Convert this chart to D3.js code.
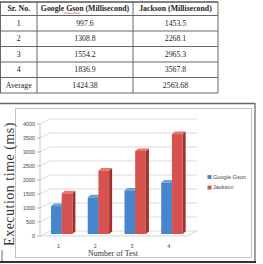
<!DOCTYPE html>
<html><head><meta charset="utf-8">
<script src="https://cdn.jsdelivr.net/npm/d3@7"></script>
<style>html,body{margin:0;padding:0;background:#fff;overflow:hidden}</style>
</head><body>
<svg id="c" width="263" height="264"></svg>
<script>
const categories = ["1", "2", "3", "4"];
const seriesNames = ["Google Gson", "Jackson"];
const gson = [997.6, 1308.8, 1554.2, 1836.9];
const jackson = [1453.5, 2268.1, 2965.3, 3567.8];
const averageLabel = "Average";
const gsonAvg = "1424.38";
const jacksonAvg = "2563.68";
const headers = ["Sr. No.", "Google Gson (Millisecond)", "Jackson (Millisecond)"];
const yTicks = [0, 500, 1000, 1500, 2000, 2500, 3000, 3500, 4000];
const yTitle = "Execution time (ms)";
const xTitle = "Number of Test";

const svg = d3.select("#c");
const serif = "'Liberation Serif', 'Times New Roman', serif";
const sans = "'Liberation Sans', Arial, sans-serif";

// ---------- Table ----------
const colX = [0.5, 37, 133, 218];
const rowY = [2, 15.5, 31, 46.5, 62, 77.5, 93];
const tbl = svg.append("g");
const rows = [headers].concat(categories.map((c, i) => [c, String(gson[i]), String(jackson[i])]))
  .concat([[averageLabel, gsonAvg, jacksonAvg]]);
rowY.forEach((y, i) => {
  tbl.append("line").attr("x1", 0).attr("x2", colX[3]).attr("y1", y).attr("y2", y)
    .attr("stroke", i === 0 ? "#555" : "#666").attr("stroke-width", i === 0 ? 1.6 : 1);
});
colX.forEach(x => {
  tbl.append("line").attr("x1", x).attr("x2", x).attr("y1", rowY[0]).attr("y2", rowY[rowY.length - 1])
    .attr("stroke", "#666").attr("stroke-width", 1);
});
rows.forEach((r, ri) => {
  const yc = (rowY[ri] + rowY[ri + 1]) / 2;
  r.forEach((t, ci) => {
    tbl.append("text").attr("x", (colX[ci] + colX[ci + 1]) / 2).attr("y", yc)
      .attr("dy", "0.35em").attr("text-anchor", "middle")
      .attr("font-family", serif).attr("font-size", 7.8)
      .attr("font-weight", ri === 0 ? "bold" : "normal")
      .attr("fill", "#222").text(t);
  });
});
(function(){
  const pts = [];
  for (let x = 64; x <= 80; x += 1) pts.push([x, 13 + (x % 2 ? 0.6 : -0.2)]);
  tbl.append("path").attr("d", d3.line()(pts)).attr("fill", "none").attr("stroke", "#d04040").attr("stroke-width", 0.6);
})();

// ---------- Frames ----------
svg.append("line").attr("x1", 0).attr("x2", 255).attr("y1", 103.5).attr("y2", 103.5).attr("stroke", "#666").attr("stroke-width", 1.6);
svg.append("line").attr("x1", 255).attr("x2", 255).attr("y1", 103).attr("y2", 262).attr("stroke", "#777").attr("stroke-width", 1.4);
svg.append("line").attr("x1", 0).attr("x2", 256).attr("y1", 262).attr("y2", 262).attr("stroke", "#333").attr("stroke-width", 2);
svg.append("line").attr("x1", 2).attr("x2", 2).attr("y1", 250).attr("y2", 261).attr("stroke", "#666").attr("stroke-width", 1);
svg.append("rect").attr("x", 15.5).attr("y", 108.5).attr("width", 236).attr("height", 149)
  .attr("fill", "#fff").attr("stroke", "#c4c4c4").attr("stroke-width", 1);

// ---------- Chart ----------
const x = d3.scaleBand().domain(categories).range([40, 187]).padding(0);
const y = d3.scaleLinear().domain([0, 4000]).range([236, 124]);
const inner = d3.scaleBand().domain(seriesNames).range([0, 21.4]);
const wallDx = 10, wallDy = -5;
const g = svg.append("g");

yTicks.forEach(v => {
  const yy = y(v);
  g.append("path")
    .attr("d", `M${x.range()[0]},${yy} L${x.range()[0] + wallDx},${yy + wallDy} L${x.range()[1] + wallDx},${yy + wallDy}`)
    .attr("fill", "none").attr("stroke", "#cfcfcf").attr("stroke-width", 0.8);
});
g.append("path")
  .attr("d", `M${x.range()[0]},${y(0)} L${x.range()[1]},${y(0)} L${x.range()[1] + wallDx},${y(0) + wallDy}`)
  .attr("fill", "none").attr("stroke", "#c8c8c8").attr("stroke-width", 0.8);
g.append("line").attr("x1", 40).attr("x2", 40).attr("y1", y(0)).attr("y2", y(4000))
  .attr("stroke", "#bdbdbd").attr("stroke-width", 0.8);
yTicks.forEach(v => {
  g.append("line").attr("x1", 37).attr("x2", 40).attr("y1", y(v)).attr("y2", y(v)).attr("stroke", "#aaa").attr("stroke-width", 0.8);
  g.append("text").attr("x", 35).attr("y", y(v)).attr("dy", "0.35em").attr("text-anchor", "end")
    .attr("font-family", sans).attr("font-size", 5.4).attr("fill", "#444").text(v);
});
categories.forEach(c => {
  g.append("text").attr("x", x(c) + x.bandwidth() / 2).attr("y", 246).attr("dy", "0.35em")
    .attr("text-anchor", "middle").attr("font-family", sans).attr("font-size", 5.4).attr("fill", "#444").text(c);
});

const colors = {
  "Google Gson": { front: "#4686cc", top: "#6aa0dc", side: "#2d5f98" },
  "Jackson": { front: "#d6524e", top: "#e57a76", side: "#9a2f2c" }
};
const barShiftX = (x.bandwidth() - 21.4) / 2 + 3.3, barShiftY = -2;
const dDx = 3, dDy = -2.5;
const barData = [];
categories.forEach((c, i) => {
  barData.push({ c, s: "Google Gson", v: gson[i] });
  barData.push({ c, s: "Jackson", v: jackson[i] });
});
const bars = g.selectAll("g.bar").data(barData).join("g").attr("class", "bar");
bars.each(function(d) {
  const sel = d3.select(this);
  const x0 = x(d.c) + barShiftX + inner(d.s);
  const w = inner.bandwidth();
  const yt = y(d.v) + barShiftY, yb = y(0) + barShiftY;
  const col = colors[d.s];
  sel.append("path").attr("d", `M${x0 + w},${yt} L${x0 + w + dDx},${yt + dDy} L${x0 + w + dDx},${yb + dDy} L${x0 + w},${yb} Z`).attr("fill", col.side);
  sel.append("path").attr("d", `M${x0},${yt} L${x0 + dDx},${yt + dDy} L${x0 + w + dDx},${yt + dDy} L${x0 + w},${yt} Z`).attr("fill", col.top);
  sel.append("rect").attr("x", x0).attr("y", yt).attr("width", w).attr("height", yb - yt).attr("fill", col.front);
});

seriesNames.forEach((s, i) => {
  const ly = 177 + i * 10.5;
  svg.append("rect").attr("x", 207.5).attr("y", ly - 2).attr("width", 4).attr("height", 4).attr("fill", colors[s].front);
  svg.append("text").attr("x", 213).attr("y", ly).attr("dy", "0.35em").attr("font-family", sans)
    .attr("font-size", 5.6).attr("fill", "#444").text(s);
});

svg.append("text").attr("transform", "translate(13.5,184) rotate(-90)").attr("text-anchor", "middle")
  .attr("font-family", serif).attr("font-size", 14).attr("letter-spacing", 0.5).attr("fill", "#333").text(yTitle);
svg.append("text").attr("x", 113).attr("y", 256).attr("text-anchor", "middle")
  .attr("font-family", serif).attr("font-size", 8).attr("fill", "#333").text(xTitle);
</script>
</body></html>
